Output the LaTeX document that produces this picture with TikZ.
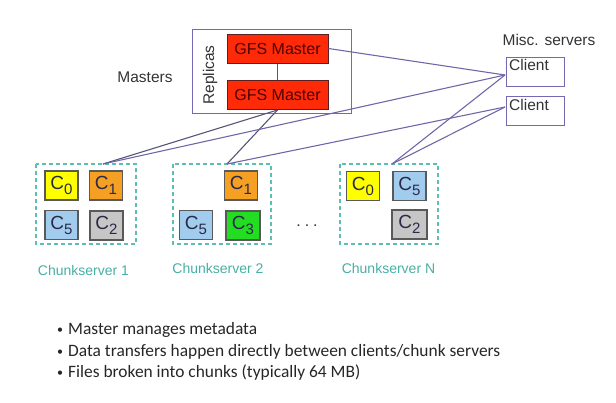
\documentclass[tikz,border=0pt]{standalone}
\usepackage{fontspec}
\setmainfont{Liberation Sans}
\newfontfamily\bulletfont{Carlito}
\definecolor{mred}{HTML}{FF2A08}
\definecolor{mborder}{HTML}{5A2020}
\definecolor{mtext}{HTML}{4A0000}
\definecolor{boxblue}{HTML}{7468B0}
\definecolor{linec}{HTML}{6E68A8}
\definecolor{linem}{HTML}{55557A}
\definecolor{teal}{HTML}{5CBFB2}
\definecolor{tealtext}{HTML}{47AFA5}
\definecolor{cyel}{HTML}{FFFF00}
\definecolor{corg}{HTML}{F5A023}
\definecolor{cblu}{HTML}{A2CCEE}
\definecolor{cgry}{HTML}{C6C6C6}
\definecolor{cgrn}{HTML}{22DD22}
\definecolor{ctext}{HTML}{2A2A48}
\definecolor{txt}{HTML}{333333}
\tikzset{
  master/.style={draw=mborder, line width=1pt, fill=mred, minimum width=101pt, minimum height=29pt, inner sep=0pt, text=mtext, font=\fontsize{16}{17}\selectfont},
  chunk/.style={draw=black!65, line width=1.2pt, minimum width=33pt, minimum height=29pt, inner sep=0pt, text=ctext, font=\fontsize{19}{19}\selectfont},
  csbox/.style={draw=teal, dashed, dash pattern=on 4pt off 3pt, line width=1.2pt},
  cslabel/.style={text=tealtext, font=\fontsize{14}{16}\selectfont},
  clientbox/.style={draw=boxblue, line width=1pt, minimum width=58pt, minimum height=29pt, inner sep=0pt},
  lbl/.style={text=txt, font=\fontsize{15.5}{17}\selectfont, inner sep=0pt},
  cline/.style={draw=linec, line width=1.1pt},
  mline/.style={draw=linem, line width=1.1pt},
  bul/.style={anchor=west, inner sep=0pt, text=black!85, font=\bulletfont\fontsize{17.4}{19}\selectfont}
}
\newcommand{\chk}[1]{C\raisebox{-5pt}{\fontsize{15}{15}\selectfont #1}}
\newcommand{\bdot}{\makebox[11pt][l]{\fontsize{12}{12}\selectfont\raisebox{1pt}{•}}}
\begin{document}
\begin{tikzpicture}[x=1pt,y=-1pt]
\useasboundingbox (0,0) rectangle (616,402);
% masters
\node[draw=boxblue, line width=1pt, minimum width=159pt, minimum height=84pt, inner sep=0pt] (rep) at (271.5,71.5) {};
\node[master] (m1) at (277.5,48.5) {GFS Master};
\node[master] (m2) at (277.5,95) {GFS Master};
\node[lbl, rotate=90] (replab) at (210,75) {Replicas};
\node[lbl] (mastlab) at (145,77) {Masters};
\draw[mline] (m1.south) -- (m2.north);
% clients
\node[lbl] (misc) at (549,40) {Misc. servers};
\node[clientbox] (cl1) at (535,71.5) {};
\node[lbl, anchor=north west] (cl1t) at (509,59) {Client};
\node[clientbox] (cl2) at (535,110.5) {};
\node[lbl, anchor=north west] (cl2t) at (509,99) {Client};
\coordinate (k1) at (505,75);
\coordinate (k2) at (505,107);
% chunkservers
\draw[csbox] (36,164) rectangle (136,244);
\draw[csbox] (173,164) rectangle (271,244);
\draw[csbox] (340,164) rectangle (438,244);
\coordinate (t1) at (103,164);
\coordinate (t2) at (227,164);
\coordinate (tn) at (392,164);
\node[chunk, fill=cyel] (a0) at (61.5,185.5) {\chk{0}};
\node[chunk, fill=corg] (a1) at (106,185.5) {\chk{1}};
\node[chunk, fill=cblu] (a5) at (61.5,225) {\chk{5}};
\node[chunk, fill=cgry] (a2) at (106.5,225.5) {\chk{2}};
\node[chunk, fill=corg] (b1) at (241,185.5) {\chk{1}};
\node[chunk, fill=cblu] (b5) at (196,225) {\chk{5}};
\node[chunk, fill=cgrn, minimum width=34pt] (b3) at (243,225.5) {\chk{3}};
\node[chunk, fill=cyel] (n0) at (363,186) {\chk{0}};
\node[chunk, fill=cblu] (n5) at (409.5,186) {\chk{5}};
\node[chunk, fill=cgry, minimum width=35pt] (n2) at (409.5,224.5) {\chk{2}};
\node[lbl, font=\fontsize{16}{17}\selectfont] (dots) at (307,226) {.\hspace{4pt}.\hspace{4pt}.};
\node[cslabel] (cs1) at (83.5,270) {Chunkserver 1};
\node[cslabel] (cs2) at (218,268) {Chunkserver 2};
\node[cslabel] (csn) at (388.5,268) {Chunkserver N};
% connectors
\draw[cline] (m1.east) -- (k1);
\draw[mline] (m2.south) -- (t1);
\draw[mline] (m2.south) -- (t2);
\draw[cline] (k1) -- (t1);
\draw[cline] (k1) -- (tn);
\draw[cline] (k2) -- (t2);
\draw[cline] (k2) -- (tn);
% bullets
\node[bul] (bl1) at (57,330) {\bdot Master manages metadata};
\node[bul] (bl2) at (57,352) {\bdot Data transfers happen directly between clients/chunk servers};
\node[bul] (bl3) at (57,373) {\bdot Files broken into chunks (typically 64 MB)};
\end{tikzpicture}
\end{document}
